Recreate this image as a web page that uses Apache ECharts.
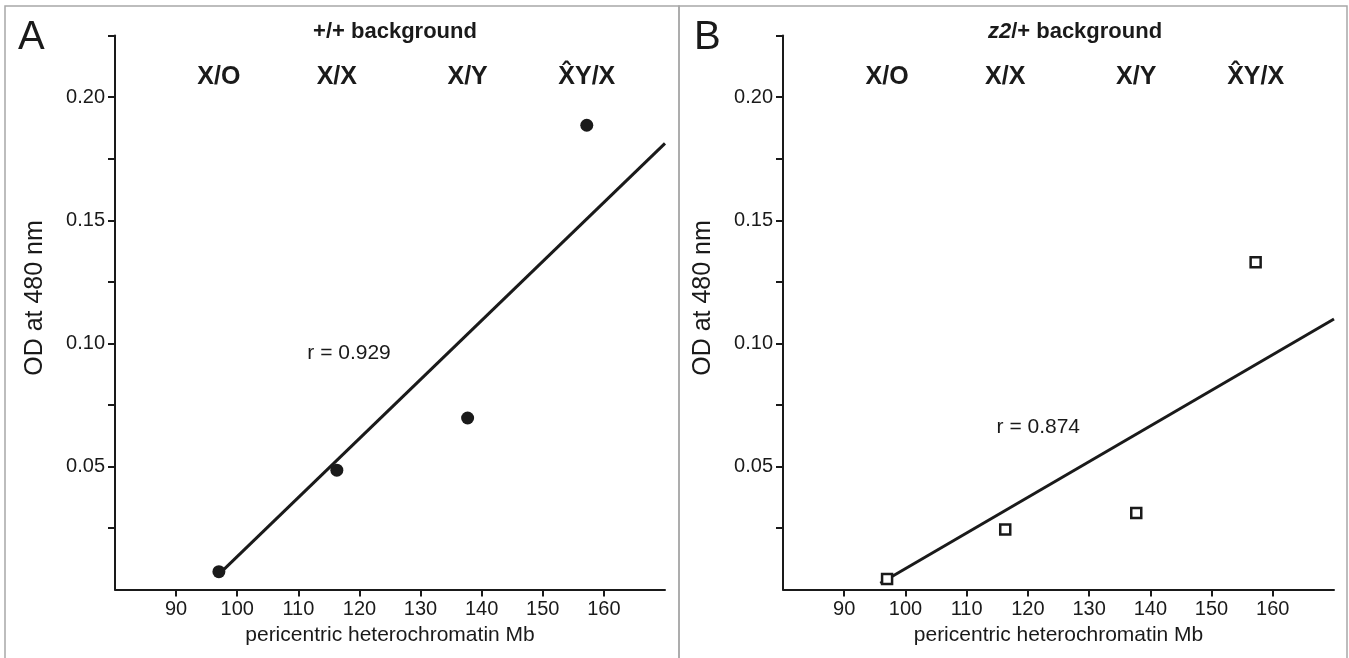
<!DOCTYPE html>
<html>
<head>
<meta charset="utf-8">
<script src="https://cdn.jsdelivr.net/npm/echarts@6/dist/echarts.min.js"></script>
<style>
  html, body { margin: 0; padding: 0; background: #fff; }
  #chart { width: 1349px; height: 658px; }
</style>
</head>
<body>
<div id="chart"></div>
<script>
// 基因型与 pericentric heterochromatin (Mb)
const genotypes = ['X/O', 'X/X', 'X/Y', 'X\u0302Y/X'];
const heteroMb = [97, 116.3, 137.7, 157.2];

// OD at 480 nm
const odWildtype = [0.0073, 0.0485, 0.0697, 0.1886];   // +/+ background
const odZ2 = [0.0043, 0.0244, 0.0311, 0.1329];         // z2/+ background

// 拟合直线两端
const fitWildtypeX = [96.6, 170];
const fitWildtypeY = [0.0053, 0.1812];
const fitZ2X = [95.9, 170];
const fitZ2Y = [0.0026, 0.1099];

// r 值标注位置
const rLabels = ['r = 0.929', 'r = 0.874'];
const rLabelX = [118.3, 121.7];
const rLabelY = [0.0962, 0.0661];

// 刻度
const xTickValues = [90, 100, 110, 120, 130, 140, 150, 160];
const yLabelValues = [0.05, 0.10, 0.15, 0.20];
const yTickValues = [0.025, 0.05, 0.075, 0.10, 0.125, 0.15, 0.175, 0.20, 0.225];
const genotypeRowY = 0.208;

const FONT = '"Liberation Sans", Arial, Helvetica, sans-serif';
const INK = '#1a1a1a';

function makeXAxis(gridIndex) {
    return {
        gridIndex: gridIndex,
        type: 'value',
        min: 80, max: 170, interval: 10,
        splitLine: { show: false },
        axisLine: { onZero: false, lineStyle: { color: INK, width: 2 } },
        axisTick: { customValues: xTickValues, length: 7, lineStyle: { color: INK, width: 2 } },
        axisLabel: { customValues: xTickValues, color: INK, fontSize: 20, fontFamily: FONT, margin: 10 },
        name: 'pericentric heterochromatin Mb',
        nameLocation: 'middle',
        nameGap: 33,
        nameTextStyle: { color: INK, fontSize: 21, fontFamily: FONT }
    };
}

function makeYAxis(gridIndex) {
    return {
        gridIndex: gridIndex,
        type: 'value',
        min: 0, max: 0.225, interval: 0.025,
        splitLine: { show: false },
        axisLine: { onZero: false, lineStyle: { color: INK, width: 2 } },
        axisTick: { customValues: yTickValues, length: 7, lineStyle: { color: INK, width: 2 } },
        axisLabel: {
            customValues: yLabelValues, color: INK, fontSize: 20, fontFamily: FONT, margin: 10,
            formatter: v => v.toFixed(2)
        }
    };
}

function pairs(xs, ys) {
    return xs.map((x, i) => [x, ys[i]]);
}

const labelSeries = (idx) => ({
    type: 'scatter',
    xAxisIndex: idx, yAxisIndex: idx,
    symbolSize: 0,
    silent: true,
    itemStyle: { opacity: 1 },
    data: heteroMb.map((x, i) => ({ value: [x, genotypeRowY], name: genotypes[i] })),
    label: {
        show: true, position: 'inside', formatter: p => p.name,
        color: INK, fontSize: 25, fontWeight: 'bold', fontFamily: FONT
    }
});

const rSeries = (idx) => ({
    type: 'scatter',
    xAxisIndex: idx, yAxisIndex: idx,
    symbolSize: 0,
    silent: true,
    itemStyle: { opacity: 1 },
    data: [{ value: [rLabelX[idx], rLabelY[idx]], name: rLabels[idx] }],
    label: {
        show: true, position: 'inside', formatter: p => p.name,
        color: INK, fontSize: 21, fontFamily: FONT
    }
});

const chart = echarts.init(document.getElementById('chart'), null, { renderer: 'canvas' });

chart.setOption({
    backgroundColor: '#fff',
    animation: false,
    grid: [
        { left: 115, top: 35.6, width: 550, height: 554 },
        { left: 783, top: 35.6, width: 551, height: 554 }
    ],
    xAxis: [makeXAxis(0), makeXAxis(1)],
    yAxis: [makeYAxis(0), makeYAxis(1)],
    graphic: [
        // 面板边框
        { type: 'rect', shape: { x: 5, y: 6, width: 674, height: 660 }, style: { fill: 'none', stroke: '#a8a8a8', lineWidth: 1.5 }, z: -1 },
        { type: 'rect', shape: { x: 679, y: 6, width: 668, height: 660 }, style: { fill: 'none', stroke: '#a8a8a8', lineWidth: 1.5 }, z: -1 },
        // 面板字母
        { type: 'text', left: 18, top: 18, style: { text: 'A', fontSize: 40, fontFamily: FONT, fill: INK } },
        { type: 'text', left: 694, top: 18, style: { text: 'B', fontSize: 40, fontFamily: FONT, fill: INK } },
        // 标题
        { type: 'text', x: 395, y: 32, style: { text: '+/+ background', fontSize: 22, fontWeight: 'bold', fontFamily: FONT, fill: INK, align: 'center', verticalAlign: 'middle' } },
        {
            type: 'text', x: 1075, y: 32,
            style: {
                text: '{i|z2}/+ background', fontSize: 22, fontWeight: 'bold', fontFamily: FONT, fill: INK,
                align: 'center', verticalAlign: 'middle',
                rich: { i: { fontStyle: 'italic', fontWeight: 'bold', fontSize: 22, fontFamily: FONT, fill: INK } }
            }
        },
        // 纵轴标题
        { type: 'text', x: 35, y: 298, rotation: Math.PI / 2, style: { text: 'OD at 480 nm', fontSize: 25, fontFamily: FONT, fill: INK, align: 'center', verticalAlign: 'middle' } },
        { type: 'text', x: 703, y: 298, rotation: Math.PI / 2, style: { text: 'OD at 480 nm', fontSize: 25, fontFamily: FONT, fill: INK, align: 'center', verticalAlign: 'middle' } }
    ],
    series: [
        {
            name: '+/+ fit', type: 'line', xAxisIndex: 0, yAxisIndex: 0,
            data: pairs(fitWildtypeX, fitWildtypeY), showSymbol: false, silent: true,
            lineStyle: { color: INK, width: 3 }
        },
        {
            name: '+/+ background', type: 'scatter', xAxisIndex: 0, yAxisIndex: 0,
            data: pairs(heteroMb, odWildtype), symbol: 'circle', symbolSize: 13,
            itemStyle: { color: INK, opacity: 1 }
        },
        {
            name: 'z2/+ fit', type: 'line', xAxisIndex: 1, yAxisIndex: 1,
            data: pairs(fitZ2X, fitZ2Y), showSymbol: false, silent: true,
            lineStyle: { color: INK, width: 3 }
        },
        {
            name: 'z2/+ background', type: 'scatter', xAxisIndex: 1, yAxisIndex: 1,
            data: pairs(heteroMb, odZ2), symbol: 'rect', symbolSize: 10,
            itemStyle: { color: '#fff', borderColor: INK, borderWidth: 2.5, opacity: 1 }, z: 3
        },
        labelSeries(0), labelSeries(1),
        rSeries(0), rSeries(1)
    ]
});
</script>
</body>
</html>
